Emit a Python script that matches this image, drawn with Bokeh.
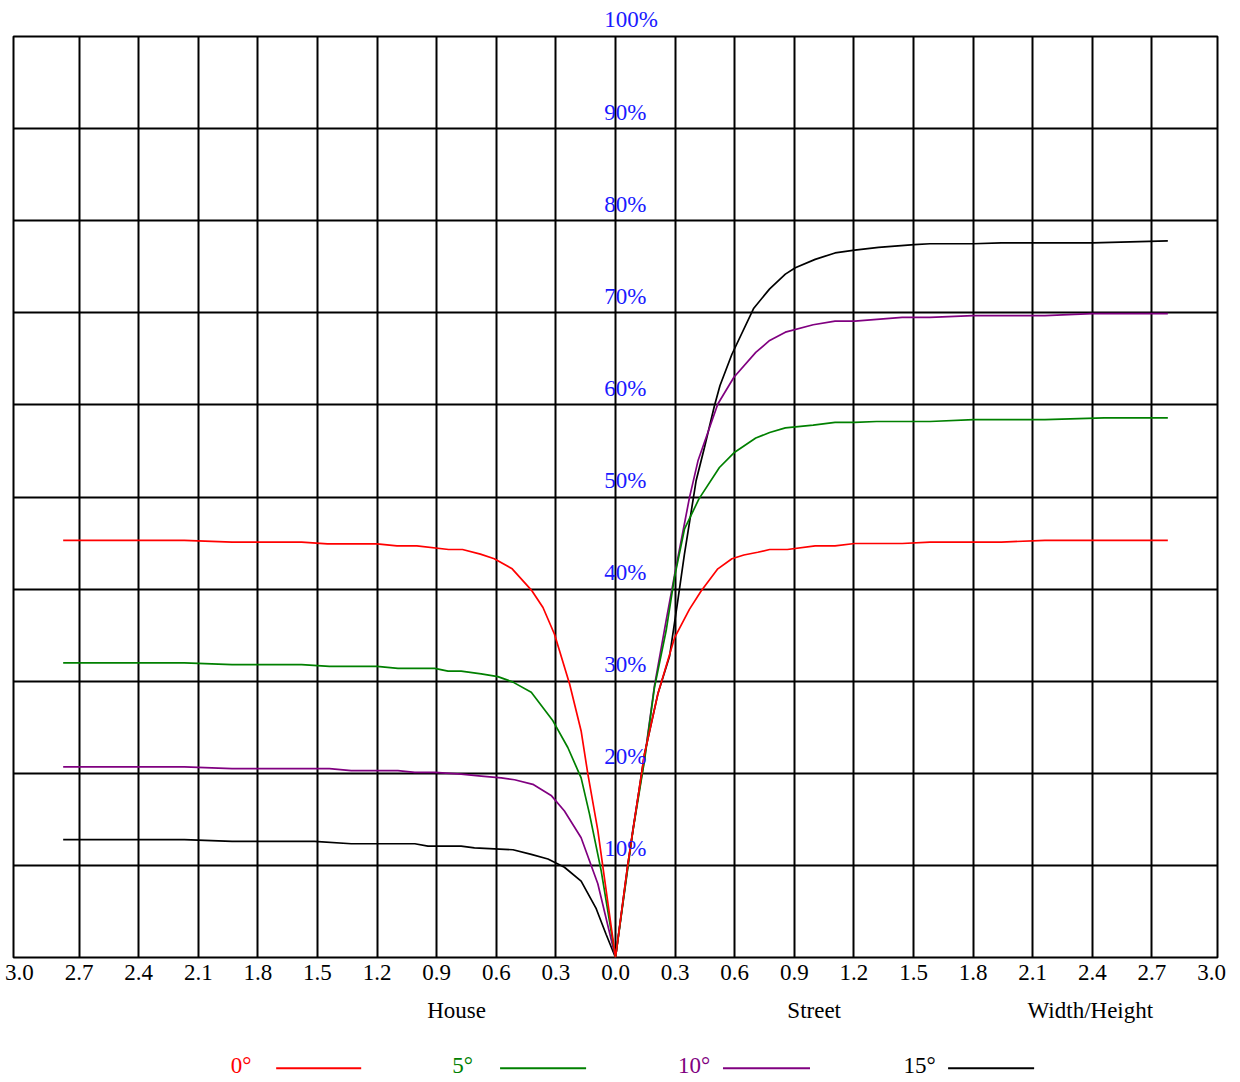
from bokeh.plotting import figure
from bokeh.models import FixedTicker, Grid, LabelSet, ColumnDataSource
from bokeh.layouts import column
from bokeh.core.properties import value
from bokeh.embed import file_html
from bokeh.resources import INLINE

# ---------------- data ----------------
x_ticks = [-3.0, -2.7, -2.4, -2.1, -1.8, -1.5, -1.2, -0.9, -0.6, -0.3, 0.0,
           0.3, 0.6, 0.9, 1.2, 1.5, 1.8, 2.1, 2.4, 2.7, 3.0]
x_tick_labels = ["3.0", "2.7", "2.4", "2.1", "1.8", "1.5", "1.2", "0.9", "0.6", "0.3", "0.0",
                 "0.3", "0.6", "0.9", "1.2", "1.5", "1.8", "2.1", "2.4", "2.7", "3.0"]
y_ticks = [10, 20, 30, 40, 50, 60, 70, 80, 90, 100]
y_tick_labels = ["10%", "20%", "30%", "40%", "50%", "60%", "70%", "80%", "90%", "100%"]
side_labels = ["House", "Street", "Width/Height"]

series_names = ["0°", "5°", "10°", "15°"]
series_colors = ["#ff0000", "#008000", "#800080", "#000000"]

x_0 = [-2.78, -2.17, -1.93, -1.58, -1.45, -1.20, -1.10, -1.00, -0.84, -0.77, -0.68, -0.61,
       -0.52, -0.42, -0.365, -0.307, -0.231, -0.173, -0.139, -0.089, 0.0,
       0.062, 0.146, 0.213, 0.297, 0.372, 0.431, 0.515, 0.586, 0.646, 0.716, 0.776,
       0.865, 1.005, 1.105, 1.204, 1.443, 1.583, 1.942, 2.161, 2.78]
y_0 = [45.3, 45.3, 45.1, 45.1, 44.9, 44.9, 44.7, 44.7, 44.3, 44.3, 43.8, 43.3,
       42.2, 39.8, 38.0, 35.1, 29.7, 24.6, 19.9, 13.8, 0.0,
       10.1, 22.1, 28.6, 34.7, 37.8, 39.8, 42.2, 43.3, 43.7, 44.0, 44.3,
       44.3, 44.7, 44.7, 44.95, 44.95, 45.1, 45.1, 45.3, 45.3]

x_5 = [-2.78, -2.17, -1.93, -1.58, -1.44, -1.20, -1.095, -0.91, -0.843, -0.777, -0.676,
       -0.592, -0.516, -0.424, -0.315, -0.24, -0.173, -0.131, -0.072, 0.0,
       0.088, 0.146, 0.196, 0.255, 0.297, 0.347, 0.42, 0.523, 0.596, 0.706, 0.776,
       0.855, 0.995, 1.105, 1.204, 1.314, 1.583, 1.802, 2.161, 2.46, 2.78]
y_5 = [32.0, 32.0, 31.8, 31.8, 31.6, 31.6, 31.4, 31.4, 31.1, 31.1, 30.8,
       30.5, 29.9, 28.8, 25.7, 22.8, 19.5, 15.6, 9.4, 0.0,
       13.8, 21.4, 29.3, 35.5, 41.3, 46.5, 49.8, 53.2, 54.8, 56.4, 57.0,
       57.5, 57.8, 58.1, 58.1, 58.2, 58.2, 58.4, 58.4, 58.6, 58.6]

x_10 = [-2.78, -2.17, -1.93, -1.44, -1.33, -1.095, -1.01, -0.91, -0.777, -0.676, -0.575,
        -0.508, -0.416, -0.324, -0.257, -0.173, -0.089, 0.0,
        0.088, 0.146, 0.196, 0.255, 0.297, 0.372, 0.416, 0.515, 0.596, 0.706, 0.776,
        0.855, 0.995, 1.105, 1.204, 1.443, 1.583, 1.80, 2.161, 2.40, 2.78]
y_10 = [20.7, 20.7, 20.5, 20.5, 20.3, 20.3, 20.1, 20.1, 19.9, 19.7, 19.5,
        19.3, 18.8, 17.6, 15.9, 13.0, 8.0, 0.0,
        14.0, 21.6, 29.5, 36.6, 41.5, 49.9, 54.0, 60.1, 63.0, 65.7, 67.0,
        67.9, 68.7, 69.1, 69.1, 69.5, 69.5, 69.7, 69.7, 69.9, 69.9]

x_15 = [-2.78, -2.17, -1.93, -1.515, -1.33, -1.01, -0.944, -0.777, -0.71, -0.609, -0.516,
        -0.424, -0.34, -0.257, -0.173, -0.097, -0.047, 0.0,
        0.062, 0.146, 0.213, 0.272, 0.314, 0.347, 0.406, 0.448, 0.498, 0.526, 0.586,
        0.696, 0.776, 0.855, 0.905, 1.005, 1.105, 1.204, 1.324, 1.503, 1.583, 1.80,
        1.942, 2.40, 2.78]
y_15 = [12.8, 12.8, 12.6, 12.6, 12.35, 12.35, 12.1, 12.1, 11.9, 11.8, 11.7,
        11.2, 10.7, 9.8, 8.3, 5.3, 2.5, 0.0,
        10.1, 22.1, 28.6, 32.7, 38.8, 43.8, 51.8, 55.4, 59.9, 62.1, 65.5,
        70.5, 72.6, 74.2, 74.9, 75.8, 76.5, 76.8, 77.1, 77.4, 77.5, 77.5,
        77.6, 77.6, 77.8]

series_x = [x_0, x_5, x_10, x_15]
series_y = [y_0, y_5, y_10, y_15]

# ---------------- layout constants ----------------
FONT = "Liberation Serif"
FS = "23px"
W = 1232
ML, MR = 13, 15
TOP_H = 34
FRAME_H = 921
MAIN_BOTTOM = 40
BOT_H = 80
LABEL_X = -0.057   # left edge of the percentage labels


def strip(height):
    s = figure(width=W, height=height, x_range=p.x_range, y_range=(0, height),
               output_backend="svg", toolbar_location=None, title=None,
               x_axis_location=None, y_axis_location=None,
               min_border_left=ML, min_border_right=MR, min_border_top=0,
               min_border_bottom=0, outline_line_color=None,
               background_fill_color="white", border_fill_color="white")
    s.xgrid.visible = False
    s.ygrid.visible = False
    return s


# ---------------- main figure ----------------
p = figure(width=W, height=2 + FRAME_H + MAIN_BOTTOM, x_range=(-3.03, 3.03), y_range=(0, 100),
           output_backend="svg", toolbar_location=None, y_axis_location=None, title=None,
           min_border_left=ML, min_border_right=MR, min_border_top=2,
           min_border_bottom=MAIN_BOTTOM, background_fill_color="white",
           border_fill_color="white")

p.outline_line_color = "black"
p.outline_line_width = 2
p.outline_line_alpha = 1.0

p.xgrid.visible = False
p.ygrid.visible = False
p.add_layout(Grid(dimension=0, ticker=FixedTicker(ticks=[t for t in x_ticks if abs(t) < 2.95]),
                  grid_line_color="black", grid_line_width=2))
p.add_layout(Grid(dimension=1, ticker=FixedTicker(ticks=[t for t in y_ticks if t < 100]),
                  grid_line_color="black", grid_line_width=2))

ax = p.xaxis[0]
ax.ticker = FixedTicker(ticks=x_ticks)
ax.major_label_overrides = {t: l for t, l in zip(x_ticks, x_tick_labels)}
ax.axis_line_color = None
ax.major_tick_line_color = None
ax.minor_tick_line_color = None
ax.major_label_standoff = 1
ax.major_label_text_font = FONT
ax.major_label_text_font_size = FS
ax.major_label_text_color = "black"

for xs, ys, c in reversed(list(zip(series_x, series_y, series_colors))):
    p.line(xs, ys, line_color=c, line_width=1.7)

inner = [(v, t) for v, t in zip(y_ticks, y_tick_labels) if v < 100]
pct_src = ColumnDataSource(dict(x=[LABEL_X] * len(inner), y=[v for v, _ in inner],
                                text=[t for _, t in inner]))
p.add_layout(LabelSet(x="x", y="y", text="text", source=pct_src, text_align="left",
                      text_baseline="alphabetic", y_offset=9, text_color="#1a1aff",
                      text_font=FONT, text_font_size=FS))

# ---------------- top strip: 100% label ----------------
p_top = strip(TOP_H)
top = [(v, t) for v, t in zip(y_ticks, y_tick_labels) if v >= 100]
p_top.text(x=[LABEL_X] * len(top), y=[TOP_H - 19] * len(top), text=[t for _, t in top],
           text_font=value(FONT), text_font_size=FS, text_color="#1a1aff",
           text_align="left", text_baseline="middle")

# ---------------- bottom strip: side labels and legend ----------------
p_bot = strip(BOT_H)
p_bot.text(x=[-0.80, 1.0, 2.39], y=[67.3] * len(side_labels), text=side_labels,
           text_font=value(FONT), text_font_size=FS, text_color="black",
           text_align="center", text_baseline="middle")

leg_src = ColumnDataSource(dict(
    tx=[-1.885, -0.77, 0.395, 1.53],
    x0=[-1.708, -0.581, 0.541, 1.674],
    x1=[-1.28, -0.148, 0.979, 2.107],
    ty=[12.0] * len(series_names),
    ly=[9.3] * len(series_names),
    name=series_names,
    color=series_colors,
))
p_bot.text(x="tx", y="ty", text="name", source=leg_src, text_color="color",
           text_font=value(FONT), text_font_size=FS, text_align="center",
           text_baseline="middle")
p_bot.segment(x0="x0", y0="ly", x1="x1", y1="ly", source=leg_src, line_color="color",
              line_width=2)

layout = column(p_top, p, p_bot, spacing=0)
open("out.html", "w").write(file_html(layout, INLINE))
